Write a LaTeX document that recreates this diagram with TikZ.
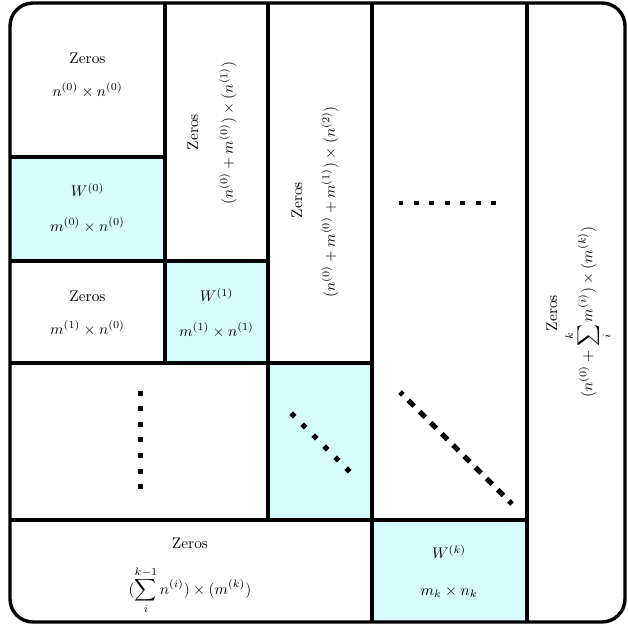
\documentclass[tikz,border=0pt]{standalone}
\usepackage{amsmath}
\definecolor{wcyan}{RGB}{216,252,252}
\begin{document}
\begin{tikzpicture}[x=0.65pt,y=-0.65pt,
  grid/.style={line width=2.2pt},
  wcell/.style={fill=wcyan},
  lbl/.style={inner sep=0pt, font=\fontsize{10}{12}\selectfont},
  dotv/.style={line width=3.25pt, dash pattern=on 3.25pt off 6.93pt},
  doth/.style={line width=3.1pt, dash pattern=on 3.1pt off 6.97pt},
  dotd/.style={line width=3.25pt, dash pattern=on 3.25pt off 6.86pt},
  dotD/.style={line width=3.4pt, dash pattern=on 5.2pt off 5.07pt, dash phase=2.6pt}]
\useasboundingbox (0,0) rectangle (628,626);
% coloured cells
\fill[wcell] (10,157) rectangle (165,261);
\fill[wcell] (165,261) rectangle (268,363);
\fill[wcell] (268,363) rectangle (372,520);
\fill[wcell] (372,520) rectangle (527,622);
% grid lines
\draw[grid] (165,3) -- (165,363);
\draw[grid] (268,3) -- (268,520);
\draw[grid] (372,3) -- (372,622);
\draw[grid] (527,3) -- (527,622);
\draw[grid] (10,157) -- (165,157);
\draw[grid] (10,261) -- (268,261);
\draw[grid] (10,363) -- (372,363);
\draw[grid] (10,520) -- (527,520);
% outer frame
\draw[grid, rounded corners=15pt] (10,3) rectangle (625,622);
% dots
\coordinate (v1) at (140,390.5); \coordinate (v2) at (140,489.5);
\draw[dotv] (v1) -- (v2);
\coordinate (h1) at (398.5,203); \coordinate (h2) at (496.5,203);
\draw[doth] (h1) -- (h2);
\coordinate (s1) at (291.2,413.2); \coordinate (s2) at (349.8,471.8);
\draw[dotd] (s1) -- (s2);
\coordinate (b1) at (400,392); \coordinate (b2) at (512,504);
\draw[dotD] (b1) -- (b2);
% labels
\node[lbl] (z0) at (87.5,58) {Zeros};
\node[lbl] (z0m) at (87.5,90) {$n^{(0)}\times n^{(0)}$};
\node[lbl] (w0) at (87.5,190) {$W^{(0)}$};
\node[lbl] (w0m) at (87.5,225) {$m^{(0)}\times n^{(0)}$};
\node[lbl] (z1) at (87.5,296) {Zeros};
\node[lbl] (z1m) at (87.5,328) {$m^{(1)}\times n^{(0)}$};
\node[lbl] (w1) at (216.5,295) {$W^{(1)}$};
\node[lbl] (w1m) at (216.5,330) {$m^{(1)}\times n^{(1)}$};
\node[lbl, rotate=90] (c2) at (193,132) {Zeros};
\node[lbl, rotate=90] (c2m) at (228,133) {$(n^{(0)}+m^{(0)})\times(n^{(1)})$};
\node[lbl, rotate=90] (c3) at (297,200) {Zeros};
\node[lbl, rotate=90] (c3m) at (330,202) {$(n^{(0)}+m^{(0)}+m^{(1)})\times(n^{(2)})$};
\node[lbl, rotate=90] (c5) at (552,313) {Zeros};
\node[lbl, rotate=90] (c5m) at (588,312) {$(n^{(0)}+\displaystyle\sum_{i}^{k} m^{(i)})\times(m^{(k)})$};
\node[lbl] (zb) at (190,543) {Zeros};
\node[lbl] (zbm) at (190,590) {$(\displaystyle\sum_{i}^{k-1} n^{(i)})\times(m^{(k)})$};
\node[lbl] (wk) at (449,552) {$W^{(k)}$};
\node[lbl] (wkm) at (449,592) {$m_k\times n_k$};
\end{tikzpicture}
\end{document}
